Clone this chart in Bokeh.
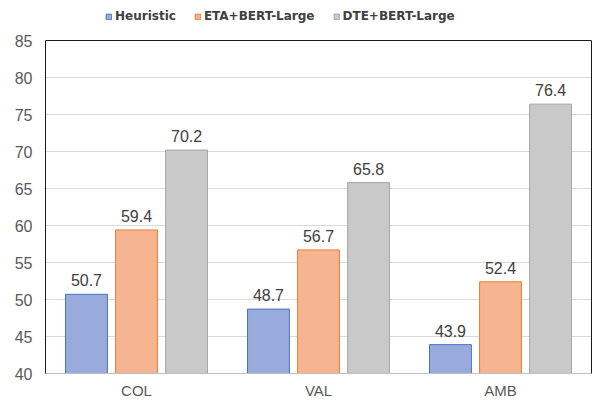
from bokeh.plotting import figure
from bokeh.models import (ColumnDataSource, FactorRange, Range1d, Legend, LegendItem, FixedTicker,
                          LinearAxis, Span)
from bokeh.transform import dodge
from bokeh.core.properties import value
from bokeh.embed import file_html
from bokeh.resources import INLINE

categories = ["COL", "VAL", "AMB"]
heuristic = [50.7, 48.7, 43.9]
eta_bert = [59.4, 56.7, 52.4]
dte_bert = [70.2, 65.8, 76.4]
series_names = ["Heuristic", "ETA+BERT-Large", "DTE+BERT-Large"]
y_ticks = [40, 45, 50, 55, 60, 65, 70, 75, 80, 85]

series = [heuristic, eta_bert, dte_bert]
fills = ["#99ABDC", "#F6B490", "#C9C9C9"]
borders = ["#4472C4", "#ED7D31", "#A5A5A5"]
offsets = [-0.275, 0.0, 0.275]

y_lo, y_hi = y_ticks[0], y_ticks[-1]
frame_h = 373          # px of frame (legend area on top included)
plot_h = 333           # px between y_lo and y_hi
y_top = y_lo + (y_hi - y_lo) * frame_h / plot_h

p = figure(width=594, height=401, x_range=FactorRange(*categories, range_padding=0, factor_padding=0),
           y_range=Range1d(y_lo, y_top), output_backend="svg", toolbar_location=None,
           min_border_left=45, min_border_right=3, min_border_top=0, min_border_bottom=28)

p.outline_line_color = None

items = []
for name, vals, fc, bc, off in zip(series_names, series, fills, borders, offsets):
    src = ColumnDataSource(dict(cat=categories, val=vals, lab=[f"{v:.1f}" for v in vals]))
    r = p.vbar(x=dodge("cat", off, range=p.x_range), top="val", bottom=y_lo, width=0.23, source=src,
               fill_color=fc, line_color=bc, line_width=1)
    p.text(x=dodge("cat", off, range=p.x_range), y="val", text="lab", source=src,
           text_align="center", text_baseline="alphabetic", y_offset=-14,
           text_font=value("Liberation Sans"), text_font_size="16px", text_color="#404040")
    items.append(LegendItem(label=name, renderers=[r]))

# top border of the plotting box
p.add_layout(Span(location=y_hi, dimension="width", line_color="#1A1A1A", line_width=1))

legend = Legend(items=items, orientation="horizontal", location=(60, 349))
legend.label_text_font = "DejaVu Sans"
legend.label_text_font_style = "bold"
legend.label_text_font_size = "12px"
legend.label_text_color = "#404040"
legend.glyph_width = 7
legend.glyph_height = 7
legend.label_height = 16
legend.label_standoff = 3
legend.spacing = 18
legend.padding = 0
legend.margin = 0
legend.border_line_color = None
legend.background_fill_alpha = 0
p.add_layout(legend, "center")

p.yaxis.ticker = FixedTicker(ticks=y_ticks)
p.yaxis.bounds = (y_lo, y_hi)
p.yaxis.axis_line_color = "#1A1A1A"
p.yaxis.major_tick_line_color = None
p.yaxis.minor_tick_line_color = None
p.yaxis.major_tick_out = 0
p.yaxis.major_tick_in = 0
p.yaxis.major_label_text_font = "Liberation Sans"
p.yaxis.major_label_text_font_size = "16px"
p.yaxis.major_label_text_color = "#595959"
p.yaxis.major_label_standoff = 13

right = LinearAxis(ticker=FixedTicker(ticks=[]), bounds=(y_lo, y_hi), axis_line_color="#1A1A1A",
                   major_tick_line_color=None, minor_tick_line_color=None,
                   major_tick_out=0, major_tick_in=0, minor_tick_out=0,
                   major_label_text_font_size="0px", major_label_standoff=0)
p.add_layout(right, "right")

p.xaxis.axis_line_color = "#BFBFBF"
p.xaxis.axis_line_width = 1
p.xaxis.major_tick_line_color = None
p.xaxis.minor_tick_line_color = None
p.xaxis.major_tick_out = 0
p.xaxis.major_tick_in = 0
p.xaxis.major_label_text_font = "Liberation Sans"
p.xaxis.major_label_text_font_size = "15px"
p.xaxis.major_label_text_color = "#595959"
p.xaxis.major_label_standoff = 8

p.xgrid.grid_line_color = None
p.ygrid.grid_line_color = "#D9D9D9"
p.ygrid.grid_line_width = 1

open("out.html", "w").write(file_html(p, INLINE))
